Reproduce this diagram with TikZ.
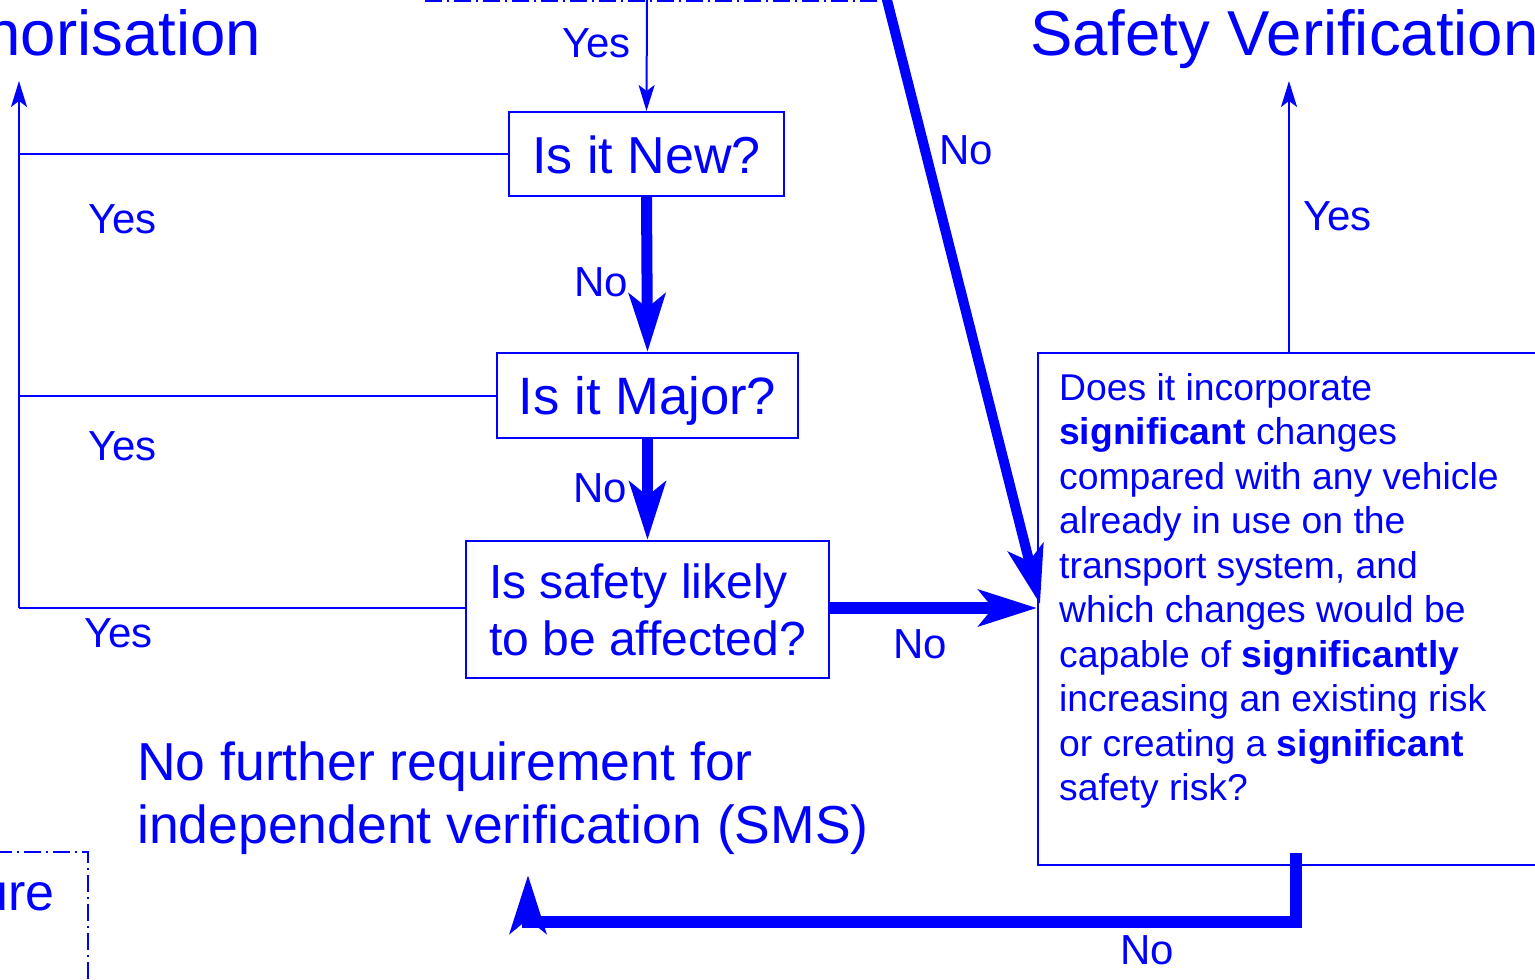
\documentclass[tikz,border=0pt]{standalone}
\usepackage{fontspec}
\setmainfont{Liberation Sans}
\usetikzlibrary{arrows.meta}
\definecolor{fblue}{RGB}{0,0,255}
\begin{document}
\begin{tikzpicture}[x=1pt,y=-1pt,
  every node/.style={text=fblue, inner sep=0pt},
  qbox/.style={draw=fblue, line width=2pt},
  lbl/.style={font=\fontsize{42}{50}\selectfont, anchor=base west},
  ttl/.style={font=\fontsize{63.5}{72}\selectfont},
  tline/.style={draw=fblue, line width=2pt},
  thinarr/.style={tline, -{Stealth[length=26pt,width=16pt,inset=6pt]}},
  thickarr/.style={draw=fblue, line width=11pt, line join=miter, -{Stealth[length=58pt,width=36pt,inset=14pt]}},
  dashdot/.style={draw=fblue, line width=2pt, dash pattern=on 17pt off 5pt on 2pt off 5pt}
]
\useasboundingbox (0,0) rectangle (1535,980);
\clip (0,0) rectangle (1535,980);

% titles
\node[ttl, anchor=base east] (auth) at (261,55) {Authorisation};
\node[ttl, anchor=base west] (sver) at (1030,55) {Safety Verification};

% decision boxes
\node[qbox, minimum width=275pt, minimum height=84pt, text height=38pt, text depth=0pt,
      font=\fontsize{52}{60}\selectfont] (new) at (646.5,154) {Is it New?};
\node[qbox, minimum width=301pt, minimum height=85pt, text height=38pt, text depth=0pt,
      font=\fontsize{52.6}{60}\selectfont] (major) at (647.5,395.5) {Is it Major?};
\node[qbox, minimum width=363pt, minimum height=137pt, align=left,
      font=\fontsize{48}{57}\selectfont] (safety) at (647.5,609.5) {Is safety likely\\to be affected?};

% right question box
\node[qbox, minimum width=540pt, minimum height=512pt] (rbox) at (1308,609) {};
\node[anchor=base west, font=\fontsize{37.3}{44.5}\selectfont] (rtext) at (1059,400)
  {\parbox[t]{470pt}{\raggedright Does it incorporate\\
  \textbf{significant} changes\\
  compared with any vehicle\\
  already in use on the\\
  transport system, and\\
  which changes would be\\
  capable of \textbf{significantly}\\
  increasing an existing risk\\
  or creating a \textbf{significant}\\
  safety risk?}};

% outcome texts
\node[anchor=base west, font=\fontsize{53.5}{63}\selectfont] (nofurther) at (137,780)
  {\parbox[t]{800pt}{\raggedright No further requirement for\\independent verification (SMS)}};
\node[anchor=base east, font=\fontsize{52}{60}\selectfont] (ure) at (55,910) {ure};

% coordinates
\coordinate (toptop) at (647,-2);
\coordinate (authtop) at (19,81);
\coordinate (lefbot) at (19,608);
\coordinate (svtop) at (1289,81);
\coordinate (dtop) at (886,-4);
\coordinate (dend) at (1040,604);
\coordinate (b0) at (1296,853);
\coordinate (b1) at (1296,922);
\coordinate (b2) at (528,922);
\coordinate (b3) at (528,875);

% dash-dot partial boxes
\draw[dashdot] (425,0.5) -- (885,0.5);
\draw[dashdot] (-5,852) -- (88,852) -- (88,990);

% thin connectors
\draw[thinarr] (toptop) -- (new.north);
\draw[tline] (new.west) -- (new.west -| authtop);
\draw[tline] (major.west) -- (major.west -| authtop);
\draw[tline] (safety.west |- lefbot) -- (lefbot);
\draw[thinarr] (lefbot) -- (authtop);
\draw[thinarr] (svtop |- rbox.north) -- (svtop);

% thick connectors
\draw[thickarr] (new.south) -- (major.north);
\draw[thickarr] (major.south) -- (safety.north);
\draw[thickarr, line width=12pt] (safety.east |- lefbot) -- (rbox.west |- lefbot);
\draw[thickarr, line width=10pt] (dtop) -- (dend);
\draw[thickarr, line width=12pt] (b0) -- (b1) -- (b2) -- (b3);

% labels
\node[lbl] (y0) at (562,57) {Yes};
\node[lbl] (y1) at (88,233) {Yes};
\node[lbl] (y2) at (88,460) {Yes};
\node[lbl] (y3) at (84,647) {Yes};
\node[lbl] (y4) at (1303,230) {Yes};
\node[lbl] (n1) at (574,296) {No};
\node[lbl] (n2) at (573,502) {No};
\node[lbl] (n3) at (893,658) {No};
\node[lbl] (n4) at (939,164) {No};
\node[lbl] (n5) at (1120,964) {No};
\end{tikzpicture}
\end{document}
